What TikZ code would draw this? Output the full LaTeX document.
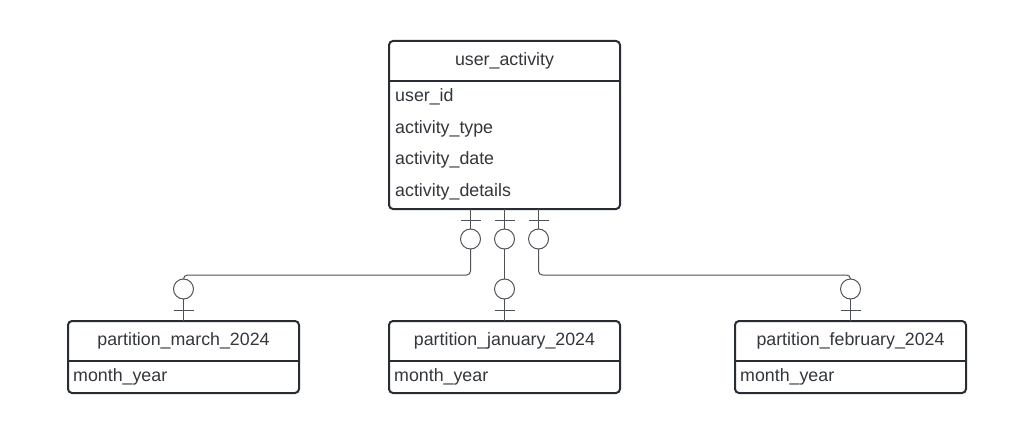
\documentclass[tikz,border=0pt]{standalone}
\usepackage{fontspec}
\setmainfont{Liberation Sans}
\usetikzlibrary{calc}
\definecolor{ink}{HTML}{282C33}
\definecolor{txt}{HTML}{33363B}
\definecolor{wire}{HTML}{4E5259}
\newcommand{\erlink}[2]{%
  \draw[conn] (#1) -- ($(#1)+(0,20)$);
  \draw[conn] ($(#1)+(-10,11)$) -- ($(#1)+(10,11)$);
  \draw[conn] ($(#1)+(0,30)$) circle (10pt);
  \draw[conn, rounded corners=4pt] ($(#1)+(0,40)$) |- ($(#2)+(0,-46)$) -- ($(#2)+(0,-42)$);
  \draw[conn] ($(#2)+(0,-32)$) circle (10pt);
  \draw[conn] ($(#2)+(0,-22)$) -- (#2);
  \draw[conn] ($(#2)+(-10,-11)$) -- ($(#2)+(10,-11)$);
}
\begin{document}
\begin{tikzpicture}[x=1pt,y=-1pt,
  tbl/.style={draw=ink, line width=2pt, rounded corners=4pt, minimum width=231pt,
              inner sep=0pt, outer sep=0pt, anchor=north west, fill=white},
  hdr/.style={font=\fontsize{17.8}{20}\selectfont, text=txt, inner sep=0pt},
  fld/.style={font=\fontsize{17.8}{20}\selectfont, text=txt, anchor=west, inner sep=0pt},
  sep/.style={draw=ink, line width=2pt},
  conn/.style={draw=wire, line width=1pt},
]
\useasboundingbox (0,0) rectangle (1035,433);

% main table
\node[tbl, minimum height=168pt] (ua) at (389,41) {};
\draw[sep] ($(ua.north west)+(0,40)$) -- ($(ua.north east)+(0,40)$);
\node[hdr] (uah) at ($(ua.north)+(0,20)$) {user\_activity};
\node[fld] (f1) at ($(ua.north west)+(6,56)$) {user\_id};
\node[fld] (f2) at ($(ua.north west)+(6,88)$) {activity\_type};
\node[fld] (f3) at ($(ua.north west)+(6,119)$) {activity\_date};
\node[fld] (f4) at ($(ua.north west)+(6,151)$) {activity\_details};

% partition tables
\node[tbl, minimum height=72pt] (mar) at (68,321) {};
\draw[sep] ($(mar.north west)+(0,40)$) -- ($(mar.north east)+(0,40)$);
\node[hdr] (marh) at ($(mar.north)+(0,20)$) {partition\_march\_2024};
\node[fld] (marf) at ($(mar.north west)+(5,56)$) {month\_year};

\node[tbl, minimum height=72pt] (jan) at (389,321) {};
\draw[sep] ($(jan.north west)+(0,40)$) -- ($(jan.north east)+(0,40)$);
\node[hdr] (janh) at ($(jan.north)+(0,20)$) {partition\_january\_2024};
\node[fld] (janf) at ($(jan.north west)+(5,56)$) {month\_year};

\node[tbl, minimum height=72pt] (feb) at (735,321) {};
\draw[sep] ($(feb.north west)+(0,40)$) -- ($(feb.north east)+(0,40)$);
\node[hdr] (febh) at ($(feb.north)+(0,20)$) {partition\_february\_2024};
\node[fld] (febf) at ($(feb.north west)+(5,56)$) {month\_year};

% attachment points
\coordinate (s1) at ($(ua.south)+(-34,0)$);
\coordinate (s2) at (ua.south);
\coordinate (s3) at ($(ua.south)+(34,0)$);

\erlink{s1}{mar.north}
\erlink{s2}{jan.north}
\erlink{s3}{feb.north}
\end{tikzpicture}
\end{document}
